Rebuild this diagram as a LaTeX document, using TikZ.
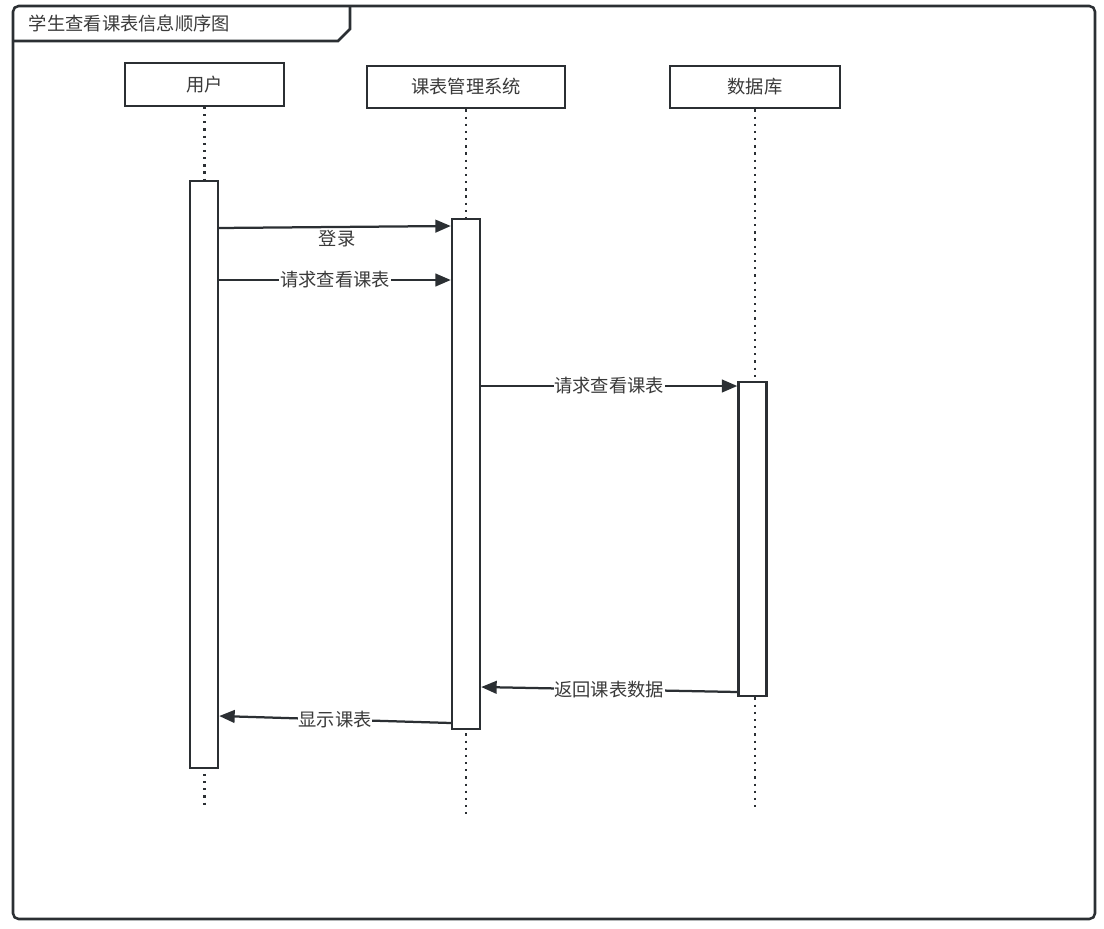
\documentclass[tikz,border=0pt]{standalone}
\usepackage{fontspec}
\setmainfont{Noto Sans CJK SC}
\usetikzlibrary{arrows.meta, positioning, calc}
\definecolor{seqLine}{HTML}{2B2F33}
\definecolor{seqText}{HTML}{3A3A3A}

\begin{document}
\begin{tikzpicture}[x=0.025cm, y=-0.025cm,
    lifehead/.style={rectangle, draw=seqLine, line width=1.7pt, fill=white,
                 minimum height=1.06cm, inner sep=0pt,
                 font=\fontsize{13}{15}\selectfont\color{seqText}},
    actbox/.style={rectangle, draw=seqLine, line width=1.7pt, fill=white,
                 minimum width=0.7cm, inner sep=0pt},
    lifeline/.style={draw=seqLine, line width=1.9pt, dash pattern=on 1.6pt off 3.5pt},
    msg/.style={draw=seqLine, line width=1.6pt, -{Triangle[length=11pt, width=9pt]}},
    msglbl/.style={fill=white, inner sep=0.5pt,
                 font=\fontsize{13}{15}\selectfont\color{seqText}},
  ]
    \useasboundingbox (0,0) rectangle (1104,928);
    \draw[seqLine, line width=1.8pt, rounded corners=4pt] (13,6) rectangle (1095,919);
    \draw[seqLine, line width=1.8pt] (13,41) -- (338,41) -- (350,29) -- (350,6);
    \node[anchor=west, font=\fontsize{13}{15}\selectfont\color{seqText}] (title) at (24,23) {学生查看课表信息顺序图};

    \node[lifehead, minimum width=3.975cm] (user) at (204.5,84.5) {用户};
    \node[lifehead, minimum width=4.95cm] (sys) at (466,87) {课表管理系统};
    \node[lifehead, minimum width=4.25cm] (db) at (755,87) {数据库};

    \coordinate (userend) at (204.5,805);
    \coordinate (sysend) at (466,818);
    \coordinate (dbend) at (755,810);
    \foreach \n in {user, sys, db}{
      \draw[lifeline] (\n.south) -- (\n end);
    }

    \node[actbox, minimum height=14.675cm] (uact) at (204,474.5) {};
    \node[actbox, minimum height=12.75cm] (sact) at (466,474) {};
    \node[actbox, minimum height=7.85cm] (dact) at (752.5,539) {};

    \draw[msg] (uact.east |- 0,228) -- (sact.west |- 0,226);
    \node[font=\fontsize{13}{15}\selectfont\color{seqText}] (m1) at (337,239) {登录};
    \draw[msg] (uact.east |- 0,280) -- node[msglbl] (m2) {请求查看课表} (sact.west |- 0,280);
    \draw[msg] (sact.east |- 0,386) -- node[msglbl] (m3) {请求查看课表} (dact.west |- 0,386);
    \draw[msg] (dact.west |- 0,692) -- node[msglbl] (m4) {返回课表数据} (sact.east |- 0,687);
    \draw[msg] (sact.west |- 0,723) -- node[msglbl] (m5) {显示课表} (uact.east |- 0,716);
  \end{tikzpicture}
\end{document}
